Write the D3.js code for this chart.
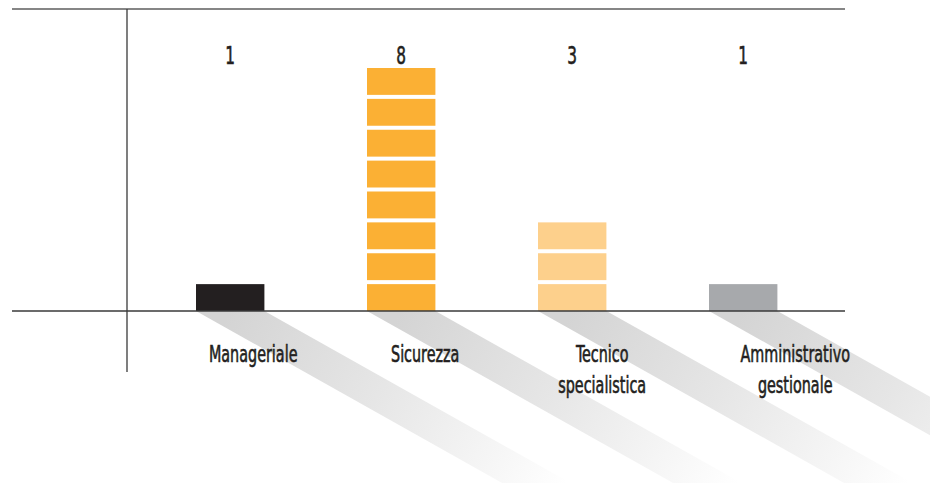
<!DOCTYPE html>
<html>
<head>
<meta charset="utf-8">
<script src="https://cdn.jsdelivr.net/npm/d3@7"></script>
<style>
  html, body { margin: 0; padding: 0; background: #fff; }
  svg { display: block; }
  .label, .value { font-family: 'DejaVu Sans Condensed', 'DejaVu Sans', sans-serif; fill: #231f20; stroke: #231f20; stroke-width: 0.6; }
</style>
</head>
<body>
<div class="graph"></div>
<script>
const categories = ['Manageriale', 'Sicurezza', 'Tecnico specialistica', 'Amministrativo gestionale'];
const labelLines = [['Manageriale'], ['Sicurezza'], ['Tecnico', 'specialistica'], ['Amministrativo', 'gestionale']];
const values = [1, 8, 3, 1];
const barColors = ['#231f20', '#fbb034', '#fdd08c', '#a7a9ac'];

const width = 930;
const height = 483;
const baseY = 311;
const topY = 9;
const segGap = 4;
const shadowLen = 185;
const shadowSlope = 1.78;
const labelShift = [23, 24, 30, 52];
const squeeze = 0.68;

const svg = d3.select('.graph')
  .append('svg')
    .attr('width', width)
    .attr('height', height);

const x = d3.scaleBand()
  .domain(categories)
  .range([144.7, 828.7])
  .paddingInner(0.6)
  .paddingOuter(0.3);

const y = d3.scaleLinear()
  .domain([0, 8])
  .range([baseY, 64]);

const defs = svg.append('defs');

// diagonal shadows under each bar
categories.forEach((c, i) => {
  const x0 = x(c);
  const grad = defs.append('linearGradient')
    .attr('id', `shade_${i}`)
    .attr('gradientUnits', 'userSpaceOnUse')
    .attr('x1', x0 + x.bandwidth() / 2)
    .attr('y1', baseY)
    .attr('x2', x0 + x.bandwidth() / 2 + shadowLen * shadowSlope)
    .attr('y2', baseY + shadowLen);
  grad.append('stop').attr('offset', 0).attr('stop-color', '#d4d4d4');
  grad.append('stop').attr('offset', 0.45).attr('stop-color', '#e6e6e6');
  grad.append('stop').attr('offset', 1).attr('stop-color', '#ffffff');
});

svg.append('g')
  .selectAll('path')
  .data(categories)
  .enter().append('path')
    .attr('fill', (d, i) => `url(#shade_${i})`)
    .attr('d', d => {
      const x0 = x(d), x1 = x(d) + x.bandwidth();
      const dx = shadowLen * shadowSlope;
      return d3.line()([[x0, baseY], [x1, baseY], [x1 + dx, baseY + shadowLen], [x0 + dx, baseY + shadowLen]]) + 'Z';
    });

// frame lines
svg.append('line')
  .attr('x1', 12).attr('x2', 845)
  .attr('y1', topY).attr('y2', topY)
  .attr('stroke', '#5e5e5e')
  .attr('stroke-width', 1.6);

svg.append('line')
  .attr('x1', 127).attr('x2', 127)
  .attr('y1', topY).attr('y2', 372)
  .attr('stroke', '#3a3a3a')
  .attr('stroke-width', 1.3);

// stacked unit segments
const bar = svg.selectAll('.bar')
  .data(categories)
  .enter().append('g')
    .attr('class', 'bar');

bar.selectAll('rect')
  .data((d, i) => d3.range(values[i]).map(k => ({ cat: d, k, i })))
  .enter().append('rect')
    .attr('x', d => x(d.cat))
    .attr('width', x.bandwidth())
    .attr('y', d => y(d.k + 1) + segGap)
    .attr('height', d => y(d.k) - y(d.k + 1) - segGap)
    .attr('fill', d => barColors[d.i]);

svg.append('line')
  .attr('x1', 12).attr('x2', 845)
  .attr('y1', baseY).attr('y2', baseY)
  .attr('stroke', '#3a3a3a')
  .attr('stroke-width', 1.3);

// value labels on top row
svg.selectAll('.value')
  .data(categories)
  .enter().append('text')
    .attr('class', 'value')
    .attr('text-anchor', 'middle')
    .attr('font-size', 25)
    .attr('transform', (d, i) => `translate(${x(d) + x.bandwidth() / 2}, 64) scale(${squeeze}, 1)`)
    .text((d, i) => values[i]);

// category labels
const label = svg.selectAll('.label')
  .data(categories)
  .enter().append('text')
    .attr('class', 'label')
    .attr('text-anchor', 'middle')
    .attr('font-size', 23.5)
    .attr('transform', (d, i) => `translate(${x(d) + x.bandwidth() / 2 + labelShift[i]}, 362) scale(${squeeze}, 1)`);

label.selectAll('tspan')
  .data((d, i) => labelLines[i])
  .enter().append('tspan')
    .attr('x', 0)
    .attr('y', (d, k) => k * 31)
    .text(d => d);
</script>
</body>
</html>
